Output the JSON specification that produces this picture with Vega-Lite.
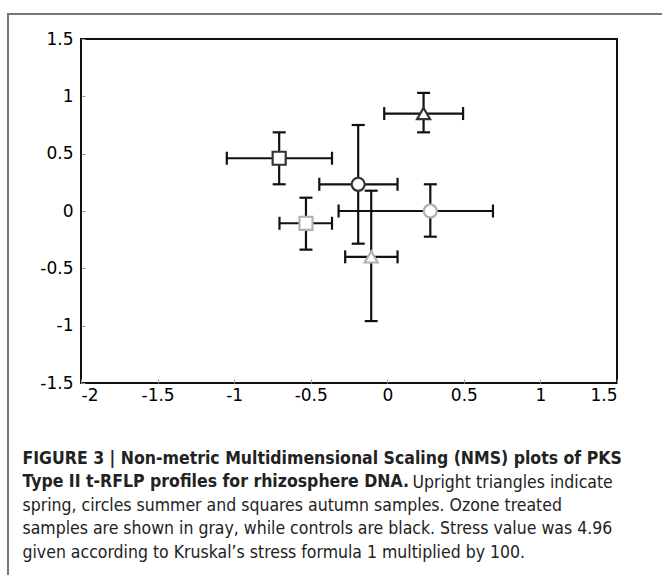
{
  "$schema": "https://vega.github.io/schema/vega-lite/v6.json",
  "width": 536,
  "height": 344,
  "autosize": {"type": "none"},
  "padding": {"left": 81, "top": 39, "right": 45, "bottom": 192},
  "background": "white",
  "config": {
    "view": {"stroke": "#111111", "strokeWidth": 2},
    "legend": {"strokeWidth": 2},
    "axis": {
      "grid": false,
      "domain": false,
      "labelFont": "DejaVu Sans",
      "labelFontSize": 17,
      "labelColor": "#000000",
      "tickColor": "#999999",
      "tickSize": -4,
      "tickWidth": 1,
      "titleFont": "Liberation Sans Narrow, DejaVu Sans Condensed, sans-serif",
      "titleFontSize": 17.5,
      "titleColor": "#222222",
      "titleLineHeight": 23.7,
      "titleAlign": "left",
      "titleAnchor": "start",
      "titleBaseline": "alphabetic",
      "titleAngle": 0
    }
  },
  "data": {
    "values": [
      {"season": "spring", "treatment": "control", "x": 0.237, "y": 0.85, "xlo": -0.02, "xhi": 0.495, "ylo": 0.686, "yhi": 1.03},
      {"season": "summer", "treatment": "control", "x": -0.19, "y": 0.233, "xlo": -0.444, "xhi": 0.067, "ylo": -0.285, "yhi": 0.75},
      {"season": "autumn", "treatment": "control", "x": -0.706, "y": 0.46, "xlo": -1.048, "xhi": -0.361, "ylo": 0.233, "yhi": 0.686},
      {"season": "spring", "treatment": "ozone", "x": -0.105, "y": -0.4, "xlo": -0.275, "xhi": 0.067, "ylo": -0.96, "yhi": 0.177},
      {"season": "summer", "treatment": "ozone", "x": 0.281, "y": 0.0, "xlo": -0.318, "xhi": 0.69, "ylo": -0.224, "yhi": 0.233},
      {"season": "autumn", "treatment": "ozone", "x": -0.531, "y": -0.107, "xlo": -0.704, "xhi": -0.361, "ylo": -0.337, "yhi": 0.116}
    ]
  },
  "resolve": {"scale": {"x": "independent"}},
  "layer": [
    {
      "layer": [
        {
          "mark": {"type": "rule", "color": "#111111", "strokeWidth": 2.2},
          "encoding": {
            "x": {
              "field": "xlo",
              "type": "quantitative",
              "scale": {"domain": [-2, 1.5], "nice": false, "zero": false},
              "axis": {
                "orient": "bottom",
                "values": [-2, -1.5, -1, -0.5, 0, 0.5, 1, 1.5],
                "labelExpr": "toString(datum.value)",
                "labelPadding": 8,
                "title": ["FIGURE 3 | Non-metric Multidimensional Scaling (NMS) plots of PKS", "Type II t-RFLP profiles for rhizosphere DNA."],
                "titleFontWeight": "bold",
                "titleX": -59,
                "titleY": 80
              }
            },
            "x2": {"field": "xhi"},
            "y": {
              "field": "y",
              "type": "quantitative",
              "scale": {"domain": [-1.5, 1.5], "nice": false, "zero": false},
              "axis": {
                "values": [-1.5, -1, -0.5, 0, 0.5, 1, 1.5],
                "labelExpr": "toString(datum.value)",
                "labelPadding": 12,
                "title": "Upright triangles indicate",
                "titleFontWeight": "normal",
                "titleX": 331,
                "titleY": 448
              }
            }
          }
        },
        {
          "mark": {"type": "rule", "color": "#111111", "strokeWidth": 2.2},
          "encoding": {
            "x": {"field": "x", "type": "quantitative"},
            "y": {"field": "ylo", "type": "quantitative"},
            "y2": {"field": "yhi"}
          }
        },
        {
          "mark": {"type": "tick", "orient": "vertical", "color": "#111111", "size": 13, "thickness": 2.2, "opacity": 1},
          "encoding": {"x": {"field": "xlo", "type": "quantitative"}, "y": {"field": "y", "type": "quantitative"}}
        },
        {
          "mark": {"type": "tick", "orient": "vertical", "color": "#111111", "size": 13, "thickness": 2.2, "opacity": 1},
          "encoding": {"x": {"field": "xhi", "type": "quantitative"}, "y": {"field": "y", "type": "quantitative"}}
        },
        {
          "mark": {"type": "tick", "orient": "horizontal", "color": "#111111", "size": 13, "thickness": 2.2, "opacity": 1},
          "encoding": {"x": {"field": "x", "type": "quantitative"}, "y": {"field": "ylo", "type": "quantitative"}}
        },
        {
          "mark": {"type": "tick", "orient": "horizontal", "color": "#111111", "size": 13, "thickness": 2.2, "opacity": 1},
          "encoding": {"x": {"field": "x", "type": "quantitative"}, "y": {"field": "yhi", "type": "quantitative"}}
        }
      ]
    },
    {
      "mark": {"type": "point", "filled": false, "fill": "white", "fillOpacity": 1, "strokeWidth": 2.2, "size": 170, "opacity": 1},
      "encoding": {
        "x": {
          "field": "x",
          "type": "quantitative",
          "scale": {"domain": [-2, 1.5], "nice": false, "zero": false},
          "axis": {
            "orient": "top",
            "labels": false,
            "ticks": false,
            "domain": false,
            "title": ["spring, circles summer and squares autumn samples. Ozone treated", "samples are shown in gray, while controls are black. Stress value was 4.96", "given according to Kruskal\u2019s stress formula 1 multiplied by 100."],
            "titleFontWeight": "normal",
            "titleX": -59,
            "titleY": 471
          }
        },
        "y": {"field": "y", "type": "quantitative"},
        "shape": {
          "field": "season",
          "type": "nominal",
          "scale": {"domain": ["spring", "summer", "autumn"], "range": ["triangle-up", "circle", "square"]},
          "legend": null
        },
        "stroke": {
          "field": "treatment",
          "type": "nominal",
          "scale": {"domain": ["control", "ozone"], "range": ["#333333", "#b0b0b0"]},
          "legend": {
            "orient": "none",
            "legendX": -73,
            "legendY": -25,
            "padding": 700,
            "strokeColor": "#777777",
            "title": null,
            "labelExpr": "''",
            "labelOpacity": 0,
            "symbolOpacity": 0
          }
        }
      }
    }
  ]
}
